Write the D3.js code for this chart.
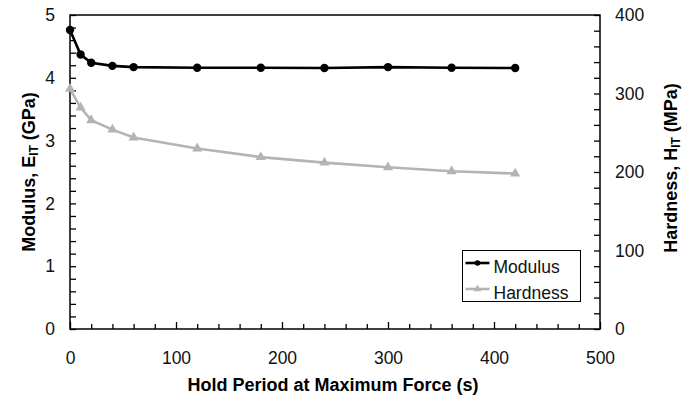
<!DOCTYPE html>
<html>
<head>
<meta charset="utf-8">
<script src="https://cdn.jsdelivr.net/npm/d3@7"></script>
<style>
  body { margin: 0; background: #fff; }
  svg { display: block; font-family: "Liberation Sans", Arial, sans-serif; }
</style>
</head>
<body>
<div id="chart"></div>
<script>
// Hold period (s)
const holdTimes = [0, 10, 20, 40, 60, 120, 180, 240, 300, 360, 420];
// Modulus E_IT (GPa), left axis
const modulus = [4.76, 4.37, 4.24, 4.19, 4.17, 4.16, 4.16, 4.155, 4.17, 4.16, 4.155];
// Hardness H_IT (MPa), right axis
const hardness = [306, 282, 266, 254, 244, 230, 219, 212, 206, 201, 198];

const xTicks = [0, 100, 200, 300, 400, 500];
const yLeftTicks = [0, 1, 2, 3, 4, 5];
const yRightTicks = [0, 100, 200, 300, 400];

const width = 691, height = 403;
const margin = { top: 15, right: 91, bottom: 74, left: 70 };
const x0 = margin.left, x1 = width - margin.right;
const y0 = height - margin.bottom, y1 = margin.top;

const svg = d3.select("#chart").append("svg")
  .attr("width", width).attr("height", height);

const x = d3.scaleLinear().domain([0, 500]).range([x0, x1]);
const yL = d3.scaleLinear().domain([0, 5]).range([y0, y1]);
const yR = d3.scaleLinear().domain([0, 400]).range([y0, y1]);

const hardColor = "#b4b4b4";
const tickFont = "17.5px";

// Minor ticks
const minorX = d3.range(0, 501, 20).filter(v => v % 100 !== 0);
const minorL = d3.range(0, 5.01, 0.2).filter(v => Math.abs(v - Math.round(v)) > 1e-6);
const minorR = d3.range(0, 401, 20).filter(v => v % 100 !== 0);

function styleAxis(g) {
  g.select(".domain").remove();
  g.selectAll("line").attr("stroke", "#000").attr("stroke-width", 1.3);
  g.selectAll("text").attr("font-size", tickFont).attr("fill", "#111");
}

// X axis (ticks inside)
svg.append("g").attr("transform", `translate(0,${y0})`)
  .call(d3.axisBottom(x).tickValues(minorX).tickSize(-5).tickFormat(""))
  .call(styleAxis);
svg.append("g").attr("transform", `translate(0,${y0})`)
  .call(d3.axisBottom(x).tickValues(xTicks).tickSize(-7).tickPadding(23).tickFormat(d3.format("d")))
  .call(styleAxis);

// Left axis
svg.append("g").attr("transform", `translate(${x0},0)`)
  .call(d3.axisLeft(yL).tickValues(minorL).tickSize(-6).tickFormat(""))
  .call(styleAxis);
svg.append("g").attr("transform", `translate(${x0},0)`)
  .call(d3.axisLeft(yL).tickValues(yLeftTicks).tickSize(-6).tickPadding(15).tickFormat(d3.format("d")))
  .call(styleAxis);

// Right axis
svg.append("g").attr("transform", `translate(${x1},0)`)
  .call(d3.axisRight(yR).tickValues(minorR).tickSize(-6).tickFormat(""))
  .call(styleAxis);
svg.append("g").attr("transform", `translate(${x1},0)`)
  .call(d3.axisRight(yR).tickValues(yRightTicks).tickSize(-6).tickPadding(15).tickFormat(d3.format("d")))
  .call(styleAxis);

// Frame
svg.append("rect")
  .attr("x", x0).attr("y", y1)
  .attr("width", x1 - x0).attr("height", y0 - y1)
  .attr("fill", "none").attr("stroke", "#000").attr("stroke-width", 1.5);

// Hardness series
const hardPts = holdTimes.map((t, i) => [x(t), yR(hardness[i])]);
svg.append("path")
  .attr("d", d3.line()(hardPts))
  .attr("fill", "none").attr("stroke", hardColor).attr("stroke-width", 2.6);
svg.selectAll(".hard-marker").data(hardPts).enter().append("path")
  .attr("class", "hard-marker")
  .attr("transform", d => `translate(${d[0]},${d[1]})`)
  .attr("d", d3.symbol(d3.symbolTriangle, 45)())
  .attr("fill", hardColor);

// Modulus series
const modPts = holdTimes.map((t, i) => [x(t), yL(modulus[i])]);
svg.append("path")
  .attr("d", d3.line()(modPts))
  .attr("fill", "none").attr("stroke", "#000").attr("stroke-width", 2.6);
svg.selectAll(".mod-marker").data(modPts).enter().append("circle")
  .attr("class", "mod-marker")
  .attr("cx", d => d[0]).attr("cy", d => d[1]).attr("r", 4.2)
  .attr("fill", "#000");

// Axis titles
svg.append("text")
  .attr("x", (x0 + x1) / 2 - 2).attr("y", 391)
  .attr("text-anchor", "middle")
  .attr("font-size", "18px").attr("font-weight", "bold")
  .text("Hold Period at Maximum Force (s)");

const leftTitle = svg.append("text")
  .attr("transform", `translate(35,${(y0 + y1) / 2}) rotate(-90)`)
  .attr("text-anchor", "middle")
  .attr("font-size", "18px").attr("font-weight", "bold");
leftTitle.append("tspan").text("Modulus, E");
leftTitle.append("tspan").attr("font-size", "12px").attr("dy", 3).text("IT");
leftTitle.append("tspan").attr("dy", -3).text(" (GPa)");

const rightTitle = svg.append("text")
  .attr("transform", `translate(677,${(y0 + y1) / 2 - 4}) rotate(-90)`)
  .attr("text-anchor", "middle")
  .attr("font-size", "18px").attr("font-weight", "bold");
rightTitle.append("tspan").text("Hardness, H");
rightTitle.append("tspan").attr("font-size", "12px").attr("dy", 3).text("IT");
rightTitle.append("tspan").attr("dy", -3).text(" (MPa)");

// Legend
const legend = svg.append("g").attr("transform", "translate(462.5,250.5)");
legend.append("rect")
  .attr("width", 118).attr("height", 51)
  .attr("fill", "#fff").attr("stroke", "#000").attr("stroke-width", 1);
const legendItems = [
  { name: "Modulus", color: "#000", symbol: "circle" },
  { name: "Hardness", color: hardColor, symbol: "triangle" }
];
legendItems.forEach((item, i) => {
  const ly = 12.5 + i * 26;
  legend.append("line")
    .attr("x1", 3).attr("x2", 27).attr("y1", ly).attr("y2", ly)
    .attr("stroke", item.color).attr("stroke-width", 2.6);
  if (item.symbol === "circle") {
    legend.append("circle").attr("cx", 15).attr("cy", ly).attr("r", 2.8).attr("fill", item.color);
  } else {
    legend.append("path")
      .attr("transform", `translate(15,${ly})`)
      .attr("d", d3.symbol(d3.symbolTriangle, 26)())
      .attr("fill", item.color);
  }
  legend.append("text")
    .attr("x", 31).attr("y", ly + 10)
    .attr("font-size", tickFont).attr("fill", "#111")
    .text(item.name);
});
</script>
</body>
</html>
